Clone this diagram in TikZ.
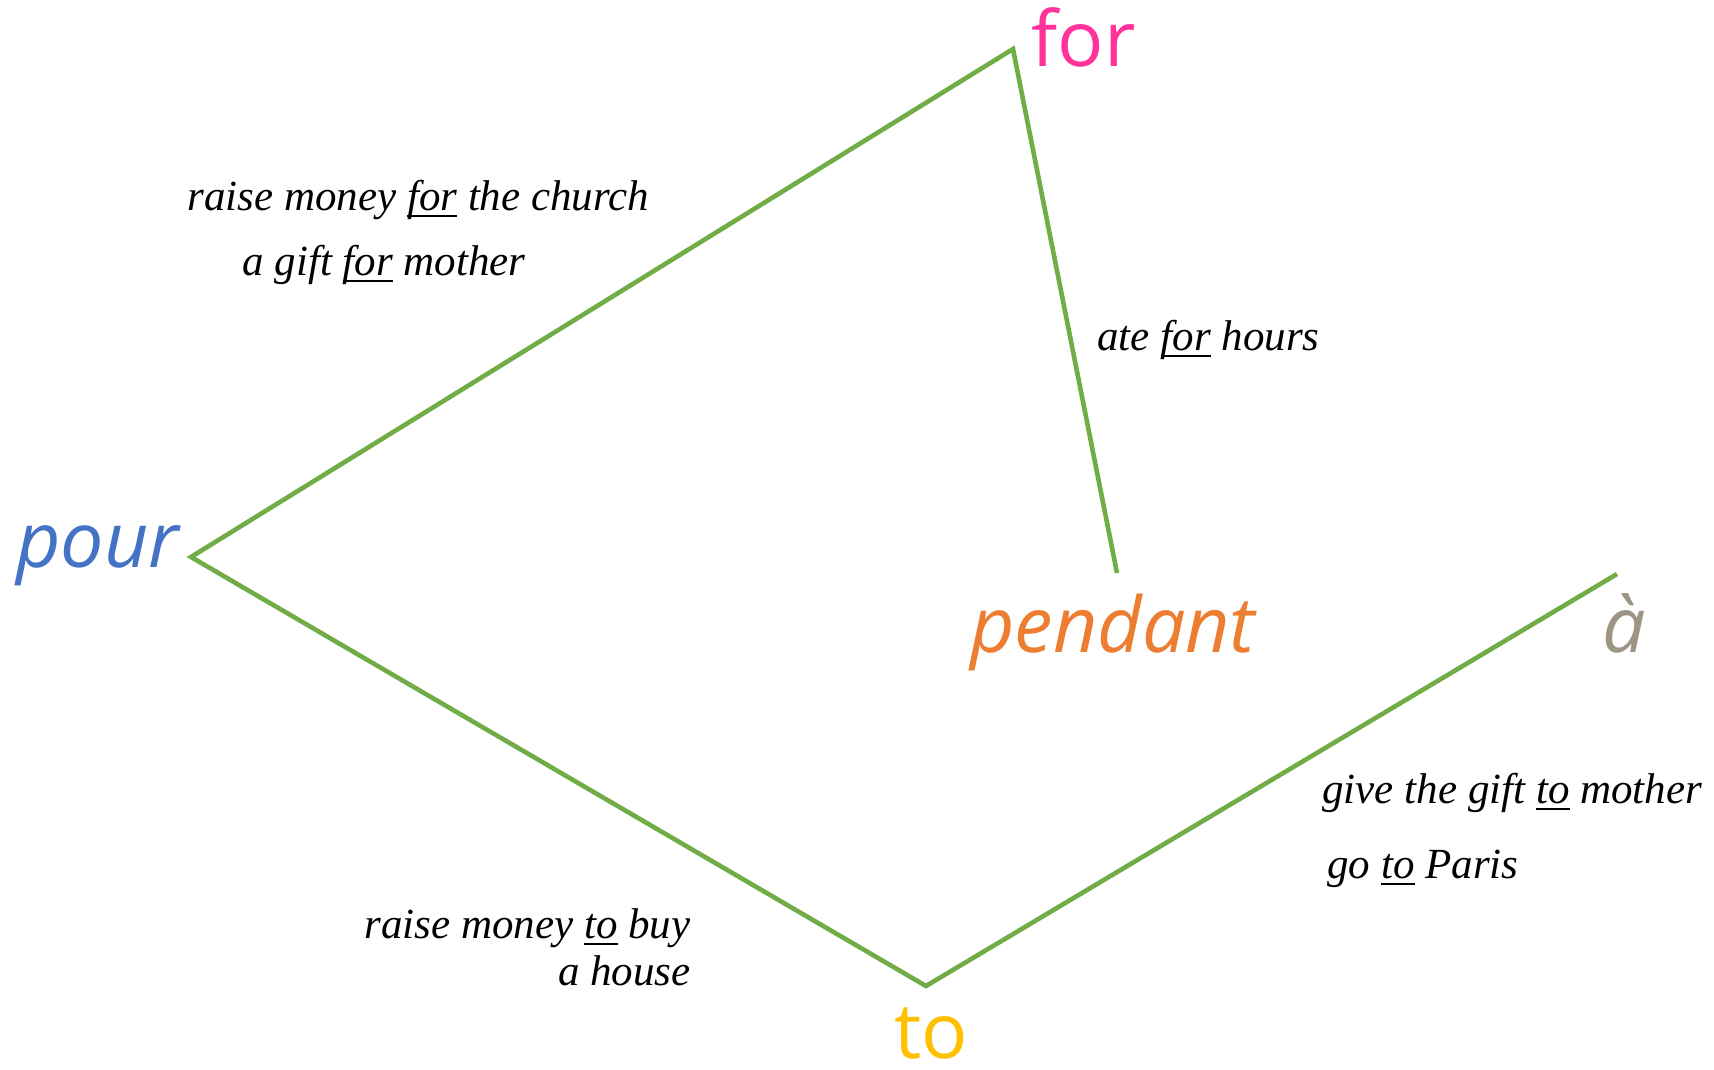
\documentclass[tikz,border=0pt]{standalone}
\usepackage{fontspec}
\setmainfont{Liberation Serif}
\newfontfamily\bigfont{Open Sans}
\newcommand\ulx[1]{\leavevmode\setbox0\hbox{#1}\rlap{\rule[-3.4pt]{\wd0}{1.1pt}}\box0\relax}
\definecolor{lgreen}{HTML}{70AD47}
\definecolor{cpour}{HTML}{4472C4}
\definecolor{cfor}{HTML}{FF3399}
\definecolor{cpend}{HTML}{ED7D31}
\definecolor{ca}{HTML}{9D9584}
\definecolor{cto}{HTML}{FFC000}
\begin{document}
\begin{tikzpicture}[x=0.5pt,y=-0.5pt,
  word/.style={font=\bigfont\fontsize{38.5}{46}\selectfont, inner sep=0pt},
  ex/.style={font=\fontsize{21.5}{25}\selectfont\itshape, inner sep=0pt},
  link/.style={lgreen, line width=2.3pt}]
\useasboundingbox[fill=white] (0,0) rectangle (1714,1070);
\coordinate (P) at (191,557);
\coordinate (F) at (1013,49);
\coordinate (Pe) at (1117,573);
\coordinate (T) at (926,986);
\coordinate (A) at (1617,574);
\draw[link] (Pe) -- (F) -- (P) -- (T) -- (A);
\node[word, text=cpour, anchor=base west] (wpour) at (16,567) {\itshape pour};
\node[word, text=cfor, anchor=base west] (wfor) at (1031,67) {for};
\node[word, text=cpend, anchor=base west] (wpend) at (970,652) {\itshape pendant};
\node[word, text=ca, anchor=base west] (wa) at (1602,652) {\itshape à};
\node[word, text=cto, anchor=base west] (wto) at (894,1058) {to};
\node[ex, anchor=base west] (e1) at (187,210) {raise money \ulx{for} the church};
\node[ex, anchor=base west] (e2) at (242,275) {a gift \ulx{for} mother};
\node[ex, anchor=base west] (e3) at (1097,350) {ate \ulx{for} hours};
\node[ex, anchor=base west] (e4) at (1322,803) {give the gift \ulx{to} mother};
\node[ex, anchor=base west] (e5) at (1327,878) {go \ulx{to} Paris};
\node[ex, anchor=base east] (e6) at (691,938) {raise money \ulx{to} buy};
\node[ex, anchor=base east] (e7) at (691,985) {a house};
\end{tikzpicture}
\end{document}
